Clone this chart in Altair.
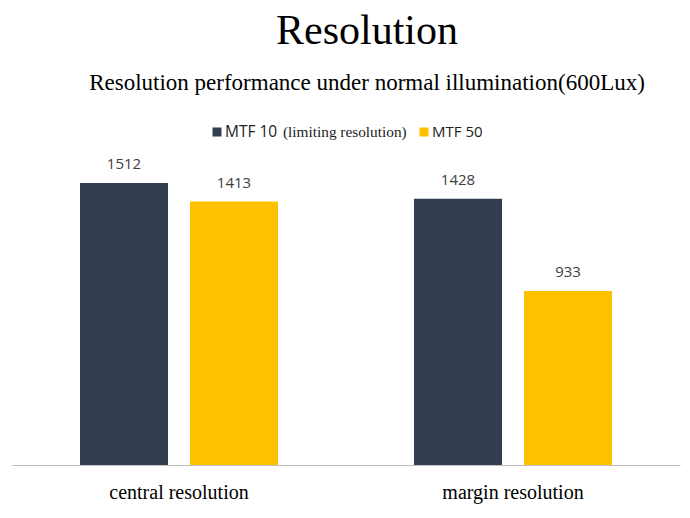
import altair as alt
import pandas as pd

categories = ["central resolution", "margin resolution"]
series = ["MTF 10", "MTF 50"]
mtf10 = [1512, 1428]
mtf50 = [1413, 933]
colors = ["#333f50", "#ffc000"]

rows = []
for i, c in enumerate(categories):
    rows.append({"category": c, "series": series[0], "value": mtf10[i]})
    rows.append({"category": c, "series": series[1], "value": mtf50[i]})
df = pd.DataFrame(rows)

x = alt.X(
    "category:N",
    sort=categories,
    scale=alt.Scale(paddingInner=0, paddingOuter=0),
    axis=alt.Axis(
        title=None, labelAngle=0, labelFont="Liberation Serif", labelFontSize=20,
        labelColor="#000000", labelPadding=17, ticks=False,
        domainColor="#bfbfbf", domainWidth=1, grid=False,
    ),
)
xo = alt.XOffset("series:N", sort=series,
                 scale=alt.Scale(paddingInner=0.2, paddingOuter=0.618))
y = alt.Y("value:Q", scale=alt.Scale(domain=[0, 1700]), axis=None)
color = alt.Color("series:N", scale=alt.Scale(domain=series, range=colors), legend=None)

bars = alt.Chart(df).mark_bar().encode(x=x, xOffset=xo, y=y, color=color)
labels = alt.Chart(df).mark_text(
    baseline="bottom", dy=-11, font="Open Sans", fontSize=15, color="#404040"
).encode(x=x, xOffset=xo, y=y, text="value:Q")

# custom legend (mixed fonts)
leg_df = pd.DataFrame({"series": series})
sq1 = alt.Chart(leg_df.iloc[[0]]).mark_square(size=81, opacity=1).encode(
    x=alt.value(205), y=alt.value(-16), color=alt.value(colors[0]))
sq2 = alt.Chart(leg_df.iloc[[1]]).mark_square(size=81, opacity=1).encode(
    x=alt.value(412), y=alt.value(-16), color=alt.value(colors[1]))
t1 = alt.Chart(leg_df.iloc[[0]]).mark_text(
    align="left", baseline="middle", font="Open Sans", fontSize=15.5, color="#222222"
).encode(x=alt.value(213), y=alt.value(-16), text="series:N")
t1b = alt.Chart(pd.DataFrame({"t": ["(limiting resolution)"]})).mark_text(
    align="left", baseline="middle", font="Liberation Serif", fontSize=15.3, color="#222222"
).encode(x=alt.value(271), y=alt.value(-16), text="t:N")
t2 = alt.Chart(leg_df.iloc[[1]]).mark_text(
    align="left", baseline="middle", font="Open Sans", fontSize=15, color="#222222"
).encode(x=alt.value(420), y=alt.value(-16), text="series:N")

chart = alt.layer(bars, labels, sq1, sq2, t1, t1b, t2).properties(
    width=668,
    height=317,
    background="#ffffff",
    autosize=alt.AutoSizeParams(type="none"),
    padding={"left": 4, "top": 140, "right": 2, "bottom": 45},
    title=alt.TitleParams(
        "Resolution",
        subtitle="Resolution performance under normal illumination(600Lux)",
        font="Liberation Serif", fontSize=42, fontWeight="normal", color="#000000",
        subtitleFont="Liberation Serif", subtitleFontSize=23, subtitleColor="#000000",
        anchor="middle", dx=21, offset=29, subtitlePadding=19,
    ),
).configure_view(strokeWidth=0, stroke="transparent")

chart.save("out.html", embed_options={"renderer": "svg", "actions": False})
